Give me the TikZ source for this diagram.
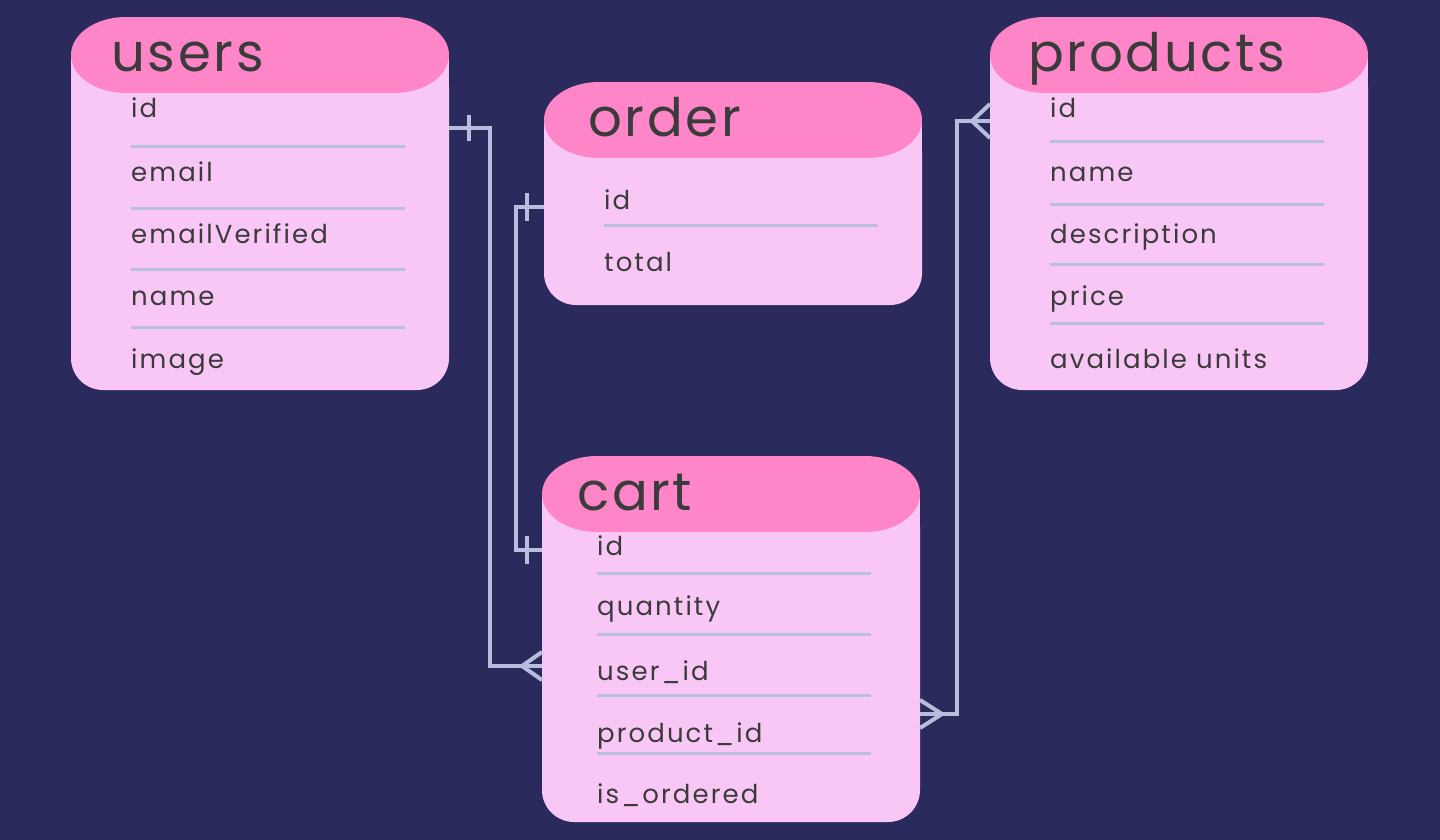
\documentclass[tikz,border=0pt]{standalone}
\usepackage{fontspec}
\setmainfont{Poppins}
\newfontfamily\fieldfont[LetterSpace=8]{Poppins}
\newfontfamily\titlefont[LetterSpace=5]{Poppins}
\usetikzlibrary{calc}
\definecolor{bgc}{HTML}{2A2A5C}
\definecolor{capc}{HTML}{FF85C9}
\definecolor{bodyc}{HTML}{F9C7F5}
\definecolor{rowc}{HTML}{BABEDD}
\definecolor{connc}{HTML}{B8BCDD}
\definecolor{txtc}{HTML}{3B3B3B}
\newcommand\ertable[4]{%
  \pgfmathsetmacro\erXl{#2}\pgfmathsetmacro\erXr{#2+378}%
  \pgfmathsetmacro\erYt{#3}\pgfmathsetmacro\erYm{#3+38}%
  \pgfmathsetmacro\erYc{#3+76}\pgfmathsetmacro\erYb{#4}%
  \pgfmathsetmacro\erH{#4-#3}%
  \fill[bodyc] (\erXl,\erYm) rectangle (\erXr,\erYb-40);
  \fill[bodyc, rounded corners=32pt] (\erXl,\erYm) rectangle (\erXr,\erYb);
  \fill[capc] (\erXl+55,\erYt) rectangle (\erXr-55,\erYc);
  \fill[capc] (\erXl+55,\erYm) ellipse[x radius=55, y radius=38];
  \fill[capc] (\erXr-55,\erYm) ellipse[x radius=55, y radius=38];
  \node[tablearea, minimum height=\erH pt] (#1) at (\erXl,\erYt) {};
}
\begin{document}
\begin{tikzpicture}[x=1pt,y=-1pt,
  tablearea/.style={inner sep=0pt, outer sep=0pt, minimum width=378pt, anchor=north west, draw=none},
  ttl/.style={anchor=base west, inner sep=0pt, text=txtc, font=\titlefont\fontsize{53}{60}\selectfont},
  field/.style={anchor=base west, inner sep=0pt, text=txtc, font=\fieldfont\fontsize{26}{30}\selectfont},
  rowline/.style={draw=rowc, line width=3pt},
  conn/.style={draw=connc, line width=4pt}]
\fill[bgc] (0,0) rectangle (1440,840);
\useasboundingbox (0,0) rectangle (1440,840);

% tables
\ertable{users}{71}{17}{390}
\ertable{order}{544}{82}{305}
\ertable{products}{990}{17}{390}
\ertable{cart}{542}{456}{822}

% titles
\node[ttl] (users-t) at (111,72) {users};
\node[ttl] (order-t) at (588,137) {order};
\node[ttl] (products-t) at (1028,72) {products};
\node[ttl] (cart-t) at (577,510) {cart};

% users fields
\node[field] (u1) at (131,118) {id};
\node[field] (u2) at (131,181) {email};
\node[field] (u3) at (131,243) {emailVerified};
\node[field] (u4) at (131,305) {name};
\node[field] (u5) at (131,368) {image};
\draw[rowline] (131,147) -- (405,147);
\draw[rowline] (131,208) -- (405,208);
\draw[rowline] (131,269) -- (405,269);
\draw[rowline] (131,327) -- (405,327);

% order fields
\node[field] (o1) at (604,209) {id};
\node[field] (o2) at (604,271) {total};
\draw[rowline] (604,225) -- (878,225);

% products fields
\node[field] (p1) at (1050,118) {id};
\node[field] (p2) at (1050,181) {name};
\node[field] (p3) at (1050,243) {description};
\node[field] (p4) at (1050,305) {price};
\node[field] (p5) at (1050,368) {available units};
\draw[rowline] (1050,142) -- (1324,142);
\draw[rowline] (1050,204) -- (1324,204);
\draw[rowline] (1050,264) -- (1324,264);
\draw[rowline] (1050,323) -- (1324,323);

% cart fields
\node[field] (c1) at (597,555) {id};
\node[field] (c2) at (597,615) {quantity};
\node[field] (c3) at (597,680) {user\_id};
\node[field] (c4) at (597,742) {product\_id};
\node[field] (c5) at (597,803) {is\_ordered};
\draw[rowline] (597,573) -- (871,573);
\draw[rowline] (597,634) -- (871,634);
\draw[rowline] (597,695) -- (871,695);
\draw[rowline] (597,753) -- (871,753);

% connectors
% users -> cart (one to many)
\draw[conn] ([yshift=-111pt]users.north east) -- ++(41,0) |- ([yshift=-210pt]cart.north west);
\draw[conn] ([xshift=20pt,yshift=-98pt]users.north east) -- ++(0,26);
\draw[conn] ([yshift=-196pt]cart.north west) -- ++(-20,14) -- ++(20,14);
% order -> cart (one to one)
\draw[conn] ([yshift=-125pt]order.north west) -- ++(-28,0) |- ([yshift=-94pt]cart.north west);
\draw[conn] ([xshift=-17pt,yshift=-111pt]order.north west) -- ++(0,28);
\draw[conn] ([xshift=-15pt,yshift=-80pt]cart.north west) -- ++(0,28);
% products -> cart (many to many)
\draw[conn] ([yshift=-104pt]products.north west) -- ++(-33,0) |- ([yshift=-258pt]cart.north east);
\draw[conn] ([yshift=-87pt]products.north west) -- ++(-18,17) -- ++(18,17);
\draw[conn] ([yshift=-244pt]cart.north east) -- ++(22,14) -- ++(-22,14);
\end{tikzpicture}
\end{document}
